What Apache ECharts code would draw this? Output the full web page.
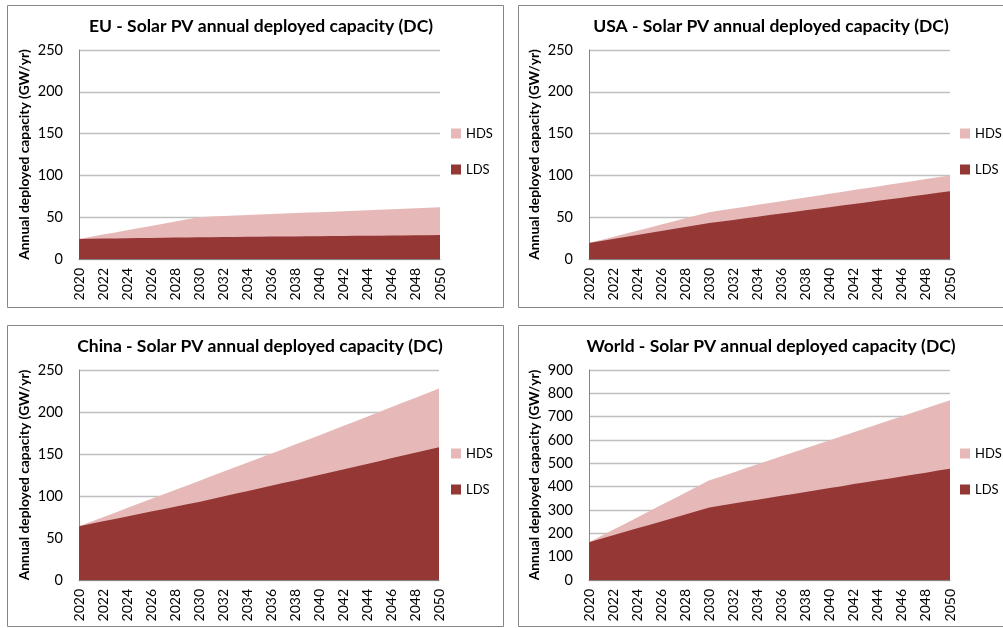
<!DOCTYPE html>
<html><head><meta charset="utf-8">
<script src="https://cdn.jsdelivr.net/npm/echarts@6/dist/echarts.min.js"></script>
<style>html,body{margin:0;padding:0;background:#fff}#c{width:1003px;height:628px}</style>
</head><body><div id="c"></div>
<script>
const years = ['2020','2021','2022','2023','2024','2025','2026','2027','2028','2029','2030','2031','2032','2033','2034','2035','2036','2037','2038','2039','2040','2041','2042','2043','2044','2045','2046','2047','2048','2049','2050'];
const seriesNames = ['HDS','LDS'];
const titles = ['EU - Solar PV annual deployed capacity (DC)','USA - Solar PV annual deployed capacity (DC)','China - Solar PV annual deployed capacity (DC)','World - Solar PV annual deployed capacity (DC)'];
const yAxisName = 'Annual deployed capacity (GW/yr)';
const yMax = [250, 250, 250, 900];
const yStep = [50, 50, 50, 100];

const euHDS = [24,26.6,29.2,31.8,34.4,37,39.6,42.2,44.8,47.4,50,50.8,51.5,52.1,52.7,53.3,53.9,54.5,55,55.5,56,56.6,57.2,57.8,58.4,59,59.6,60.2,60.8,61.4,62];
const euLDS = [24,24.2,24.4,24.6,24.8,25,25.2,25.4,25.6,25.8,26,26.1,26.3,26.4,26.5,26.7,26.8,26.9,27.0,27.2,27.3,27.4,27.5,27.7,27.8,27.9,28.0,28.2,28.3,28.4,28.6];
const usaHDS = [19,22.7,26.4,30.1,33.8,37.5,41.2,44.9,48.6,52.3,56,58.2,60.4,62.6,64.8,67,69.2,71.4,73.6,75.8,78,80.2,82.4,84.6,86.8,89,91.2,93.4,95.6,97.8,100];
const usaLDS = [19,21.4,23.8,26.2,28.6,31,33.4,35.8,38.2,40.6,43,44.9,46.8,48.7,50.6,52.5,54.4,56.3,58.2,60.1,62,63.9,65.8,67.7,69.6,71.5,73.4,75.3,77.2,79.1,81];
const chinaHDS = [64,69.4,74.8,80.2,85.6,91,96.4,101.8,107.2,112.6,118,123.4,128.8,134.2,139.6,145,150.4,155.8,161.2,166.6,172,177.6,183.2,188.8,194.4,200,205.6,211.2,216.8,222.4,228];
const chinaLDS = [64,66.9,69.8,72.7,75.6,78.5,81.4,84.3,87.2,90.1,93,96.2,99.4,102.6,105.8,109,112.2,115.4,118.6,121.8,125,128.3,131.6,134.9,138.2,141.5,144.8,148.1,151.4,154.7,158];
const worldHDS = [162,188.5,215,241.5,268,294.5,321,347.5,374,400.5,427,444,461,479,496,513,530,547,565,582,599,616,633,650,667,685,702,719,736,753,770];
const worldLDS = [162,177,192,207,222,236,251,266,281,296,311,319,328,336,344,352,361,369,377,386,394,402,411,419,427,435,444,452,460,469,477];

const dataSets = [[euHDS, euLDS],[usaHDS, usaLDS],[chinaHDS, chinaLDS],[worldHDS, worldLDS]];
const colors = ['#E6B9B8', '#953735'];

const F = 'Lato, "Open Sans", sans-serif';
const grids = [
  {left:79, top:50, width:361, height:209},
  {left:589, top:50, width:361, height:209},
  {left:79, top:370, width:360, height:210},
  {left:589, top:370, width:361, height:210}
];
const titlePos = [[256,12],[766,12],[255,332],[766,332]];
const legendPos = [[451,127],[960,127],[451,447],[960,447]];
const boxes = [[7,5,496,302],[518,5,490,302],[7,325,496,301],[518,325,490,301]];

const option = {
  animation:false,
  color: colors,
  title: titles.map((t,i)=>({text:t, left:titlePos[i][0], top:titlePos[i][1], textAlign:'center',
    textStyle:{fontFamily:F, fontSize:17.5, fontWeight:'bold', color:'#000'}})),
  legend: grids.map((g,i)=>({data:seriesNames, orient:'vertical', left:legendPos[i][0], top:legendPos[i][1],
    padding:0, itemWidth:10, itemHeight:10, itemGap:23, icon:'rect', selectedMode:false,
    textStyle:{fontFamily:F, fontSize:13, color:'#000'},
    seriesIndex:[i*2, i*2+1]})),
  grid: grids,
  xAxis: grids.map((g,i)=>({type:'category', gridIndex:i, data:years, boundaryGap:false,
    axisLine:{show:true, lineStyle:{color:'#868686'}}, axisTick:{show:false},
    axisLabel:{interval:1, rotate:90, fontFamily:F, fontSize:14, color:'#000', margin:9}})),
  yAxis: grids.map((g,i)=>({type:'value', gridIndex:i, min:0, max:yMax[i], interval:yStep[i],
    name:yAxisName, nameLocation:'middle', nameRotate:90, nameGap:47,
    nameTextStyle:{fontFamily:F, fontSize:13.8, fontWeight:'bold', color:'#000'},
    axisLine:{show:true, lineStyle:{color:'#868686'}}, axisTick:{show:false},
    splitLine:{lineStyle:{color:'#BFBFBF', width:1.3}},
    axisLabel:{fontFamily:F, fontSize:14.5, color:'#000', margin:16}})),
  series: [],
  graphic: boxes.map(b=>({type:'rect', shape:{x:b[0]+0.5, y:b[1]+0.5, width:b[2], height:b[3]},
    style:{fill:'none', stroke:'#868686', lineWidth:1}, silent:true, z:100}))
};
dataSets.forEach((ds,i)=>{
  ds.forEach((d,j)=>{
    option.series.push({name:seriesNames[j], type:'line', xAxisIndex:i, yAxisIndex:i, data:d,
      symbol:'none', lineStyle:{width:0}, areaStyle:{color:colors[j], opacity:1}, itemStyle:{color:colors[j]},
      z: 2+j});
  });
});
const chart = echarts.init(document.getElementById('c'), null, {renderer:'canvas'});
chart.setOption(option);
</script></body></html>
